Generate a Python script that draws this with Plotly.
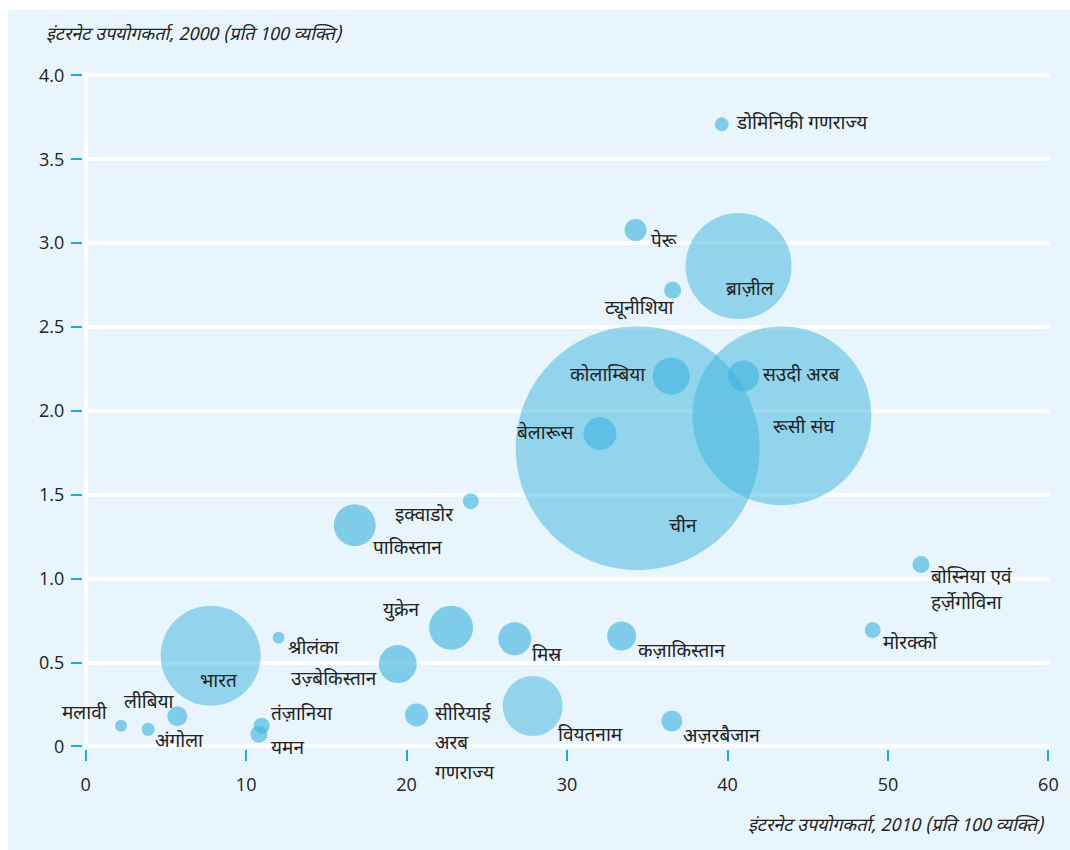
import plotly.graph_objects as go

# ---------------- data ----------------
countries = [
    "मलावी", "अंगोला", "लीबिया", "भारत", "श्रीलंका", "तंज़ानिया", "यमन",
    "उज़्बेकिस्तान", "युक्रेन", "मिस्र", "सीरियाई<br>अरब<br>गणराज्य", "वियतनाम",
    "कज़ाकिस्तान", "अज़रबैजान", "मोरक्को", "बोस्निया एवं<br>हर्ज़ेगोविना",
    "पाकिस्तान", "इक्वाडोर", "चीन", "बेलारूस", "कोलाम्बिया", "सउदी अरब",
    "रूसी संघ", "ब्राज़ील", "ट्यूनीशिया", "पेरू", "डोमिनिकी गणराज्य",
]
users_2010 = [
    2.20, 3.89, 5.71, 7.79, 12.02, 10.97, 10.80,
    19.45, 22.77, 26.74, 20.62, 27.86,
    33.40, 36.53, 49.05, 52.06,
    16.77, 24.00, 34.40, 32.05, 36.49, 41.00,
    43.39, 40.69, 36.58, 34.27, 39.64,
]
users_2000 = [
    0.124, 0.102, 0.180, 0.541, 0.648, 0.124, 0.073,
    0.491, 0.708, 0.642, 0.188, 0.241,
    0.658, 0.152, 0.694, 1.085,
    1.319, 1.462, 1.778, 1.865, 2.207, 2.208,
    1.971, 2.864, 2.719, 3.078, 3.708,
]
bubble_value = [
    12, 13, 20, 100, 12, 16, 17,
    38, 44, 33, 23, 60,
    29, 21, 16, 17,
    42, 16, 244, 33, 37, 31,
    179, 106, 17, 22, 14,
]
y_tick_values = [0, 0.5, 1.0, 1.5, 2.0, 2.5, 3.0, 3.5, 4.0]
y_tick_labels = ["0", "0.5", "1.0", "1.5", "2.0", "2.5", "3.0", "3.5", "4.0"]
x_tick_values = [0, 10, 20, 30, 40, 50, 60]
x_tick_labels = ["0", "10", "20", "30", "40", "50", "60"]
y_title = "इंटरनेट उपयोगकर्ता, 2000 (प्रति 100 व्यक्ति)"
x_title = "इंटरनेट उपयोगकर्ता, 2010 (प्रति 100 व्यक्ति)"

# ---------------- label placement (style) ----------------
# (xanchor, xshift px, yshift px of label block centre, line gap px)
label_pos = [
    ("right", -11, 11, 0), ("left", 5, -13, 0), ("right", 0, 13, 0), ("center", 8, -27, 0),
    ("left", 7, -12, 0), ("left", 7, 10, 0), ("left", 10, -15, 0),
    ("right", -19, -16, 0), ("right", -29, 17, 0), ("left", 15, -18, 0), ("left", 16, -30, 30),
    ("left", 23, -30, 0),
    ("left", 14, -16, 0), ("left", 9, -16, 0), ("left", 8, -14, 0), ("left", 8, -27, 26),
    ("left", 16, -24, 0), ("right", -15, -15, 0), ("center", 45, -79, 0), ("right", -24, 0, 0),
    ("right", -23, 0, 0), ("left", 17, 0, 0),
    ("center", 22, -13, 0), ("center", 12, -25, 0), ("right", 4, -19, 0), ("left", 13, -12, 0),
    ("left", 12, 0, 0),
]

BG = "#e9f5fc"
TICK_BLUE = "#1ba9e1"
TEXT = "#222222"
DEVA = "Noto Sans Devanagari, Noto Sans, Lohit Devanagari, sans-serif"
NUM = "Open Sans, Noto Sans, sans-serif"

opac = [0.5 if s > 50 else 0.62 for s in bubble_value]

fig = go.Figure()
fig.add_trace(go.Scatter(
    x=users_2010, y=users_2000, mode="markers",
    marker=dict(size=bubble_value, sizemode="diameter", sizeref=1,
                color="#3eb3de", opacity=opac, line=dict(width=0)),
    hoverinfo="skip", showlegend=False,
))

for name, xv, yv, (xa, xs, ys, gap) in zip(countries, users_2010, users_2000, label_pos):
    lines = name.split("<br>")
    n = len(lines)
    for i, line in enumerate(lines):
        fig.add_annotation(x=xv, y=yv, text=line, showarrow=False,
                           xanchor=xa, yanchor="middle", xshift=xs,
                           yshift=ys + gap * ((n - 1) / 2 - i),
                           font=dict(family=DEVA, size=19, color=TEXT))

fig.add_annotation(xref="paper", yref="paper", x=0, y=1, text=y_title,
                   showarrow=False, xanchor="left", yanchor="middle",
                   xshift=-39, yshift=37,
                   font=dict(family=DEVA, size=18, color=TEXT, style="italic"))
fig.add_annotation(xref="paper", yref="paper", x=1, y=0, text=x_title,
                   showarrow=False, xanchor="right", yanchor="middle",
                   xshift=-3, yshift=-77,
                   font=dict(family=DEVA, size=18, color=TEXT, style="italic"))

fig.update_xaxes(range=[-0.17, 60.1], tickvals=x_tick_values, ticktext=x_tick_labels,
                 showgrid=False, zeroline=True, zerolinecolor="white", zerolinewidth=4,
                 ticks="outside", ticklen=11, tickwidth=2, tickcolor=TICK_BLUE,
                 showline=False, tickfont=dict(family=NUM, size=18, color=TEXT),
                 ticklabelstandoff=8)
fig.update_yaxes(range=[-0.015, 4.02], tickvals=y_tick_values, ticktext=y_tick_labels,
                 showgrid=True, gridcolor="white", gridwidth=4,
                 zeroline=True, zerolinecolor="white", zerolinewidth=4,
                 ticks="outside", ticklen=11, tickwidth=2, tickcolor=TICK_BLUE,
                 showline=False, tickfont=dict(family=NUM, size=18, color=TEXT),
                 ticklabelstandoff=3)

fig.update_layout(
    width=1062, height=840,
    margin=dict(l=75, r=20, t=62, b=101),
    paper_bgcolor=BG, plot_bgcolor=BG,
    hovermode=False,
)

fig.write_html(
    "out.html",
    post_script="document.documentElement.style.overflow='hidden';"
                "document.body.style.margin='10px 0 0 8px';",
)
